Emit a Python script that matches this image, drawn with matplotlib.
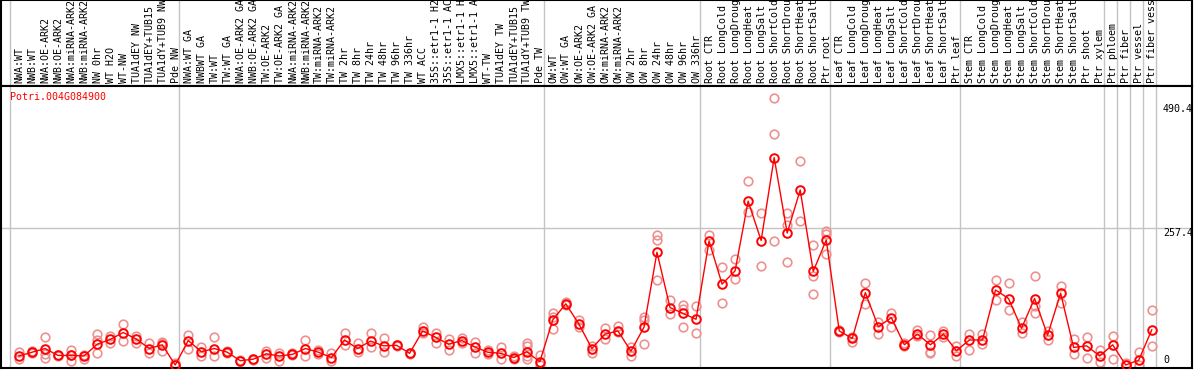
"""
Profil d'expression de Potri.004G084900 : moyenne (ligne rouge) et répliques
(cercles clairs) pour chaque échantillon, groupes séparés par des traits gris.
"""

import matplotlib
matplotlib.use("Agg")
import matplotlib.pyplot as plt

gene = "Potri.004G084900"

echantillons = [
    "NWA:WT", "NWB:WT", "NWA:OE-ARK2", "NWB:OE-ARK2", "NWA:miRNA-ARK2",
    "NWB:miRNA-ARK2", "NW 0hr", "WT H2O", "WT-NW", "TUA1dEY NW",
    "TUA1dEY+TUB15", "TUA1dY+TUB9 NW", "Pde NW",
    "NWA:WT GA", "NWBWT GA", "TW:WT", "TW:WT GA", "NWA:OE-ARK2 GA",
    "NWB:OE-ARK2 GA", "TW:OE-ARK2", "TW:OE-ARK2 GA", "NWA:miRNA-ARK2",
    "NWB:miRNA-ARK2", "TW:miRNA-ARK2", "TW:miRNA-ARK2", "TW 2hr", "TW 8hr",
    "TW 24hr", "TW 48hr", "TW 96hr", "TW 336hr", "WT ACC", "35S::etr1-1 H2",
    "35S::etr1-1 AC", "LMX5::etr1-1 H", "LMX5::etr1-1 A", "WT-TW",
    "TUA1dEY TW", "TUA1dEY+TUB15", "TUA1dY+TUB9 TW", "Pde TW",
    "OW:WT", "OW:WT GA", "OW:OE-ARK2", "OW:OE-ARK2 GA", "OW:miRNA-ARK2",
    "OW:miRNA-ARK2", "OW 2hr", "OW 8hr", "OW 24hr", "OW 48hr", "OW 96hr",
    "OW 336hr",
    "Root CTR", "Root LongCold", "Root LongDroug", "Root LongHeat",
    "Root LongSalt", "Root ShortCold", "Root ShortDrou", "Root ShortHeat",
    "Root ShortSalt", "Ptr root",
    "Leaf CTR", "Leaf LongCold", "Leaf LongDroug", "Leaf LongHeat",
    "Leaf LongSalt", "Leaf ShortCold", "Leaf ShortDrou", "Leaf ShortHeat",
    "Leaf ShortSalt", "Ptr leaf",
    "Stem CTR", "Stem LongCold", "Stem LongDroug", "Stem LongHeat",
    "Stem LongSalt", "Stem ShortCold", "Stem ShortDrou", "Stem ShortHeat",
    "Stem ShortSalt", "Ptr shoot", "Ptr xylem",
    "Ptr phloem", "Ptr fiber", "Ptr vessel", "Ptr fiber vess",
]

moyennes = [
    17, 24, 31, 18, 18, 17, 39, 48, 61, 49, 31, 38, 0,
    46, 25, 31, 24, 8, 11, 21, 17, 20, 31, 24, 14, 47, 31, 45, 36, 37, 22,
    64, 52, 39, 46, 34, 24, 22, 14, 25, 6,
    85, 115, 77, 31, 58, 64, 26, 71, 212, 108, 97, 86,
    233, 152, 177, 308, 234, 390, 248, 329, 176, 235,
    64, 50, 136, 72, 89, 38, 58, 38, 58, 27,
    47, 47, 141, 125, 69, 125, 56, 135, 33, 36, 17,
    38, 0, 9, 66,
]

repliques = [
    [25, 11], [27, 22], [53, 21, 14], [19, 16], [28, 8, 18], [19, 11],
    [58, 47, 23], [54, 42], [77, 45], [54, 42], [42, 23], [44, 41, 27], [4, 0],
    [57, 31], [33, 17], [52, 16], [26, 22], [9, 7], [12, 10], [27, 14],
    [23, 8], [22, 18], [47, 16], [28, 21], [22, 8], [61, 38], [41, 25],
    [61, 34], [50, 25], [38, 36], [23, 21], [71, 61], [60, 42], [48, 29],
    [50, 42], [44, 23], [28, 20], [33, 11], [16, 12], [41, 36, 16, 11], [19, 0],
    [97, 90, 67], [118, 112], [85, 71], [22, 36], [69, 48], [73, 62], [34, 17],
    [91, 84, 39], [244, 235, 160], [122, 95], [113, 106, 71], [111, 61],
    [244, 217], [184, 116], [200, 161], [346, 288], [286, 186],
    [501, 434, 234], [285, 263, 193], [383, 271], [226, 167, 133],
    [251, 246, 209],
    [62, 66], [53, 44], [155, 115], [81, 58], [98, 71], [41, 35], [66, 55],
    [56, 25, 22], [63, 53], [36, 17],
    [58, 28], [58, 39], [160, 123], [154, 103], [80, 60], [167, 97, 110],
    [63, 47], [148, 116], [48, 21], [53, 14], [29, 6],
    [54, 11], [4, 0], [24, 0], [103, 36],
]

# début de chaque groupe (et fin du dernier)
separations = [0, 13, 41, 53, 63, 73, 84, 85, 86, 87, 88]
graduations = [0, 257.4, 490.4]

# ──────────────────────────────────────────────────────────────────────────────

W, H = 1194, 370
ROUGE = "#ff0000"
ROSE = "#ee9090"
GRIS = "#c4c4c4"
police = dict(family="DejaVu Sans Mono", fontsize=7.2)

fig = plt.figure(figsize=(W / 100, H / 100), dpi=100)

# positions en pixels : point i à 19 + 13.02 i, cadre de x=1 à x=1192
pas, x0 = 13.02, 19.0
xlim = ((1 - x0) / pas, (1192 - x0) / pas)
decal = 9.0 / pas

ax_lab = fig.add_axes([1 / W, (H - 86) / H, 1191 / W, 86 / H])
ax = fig.add_axes([1 / W, (H - 368) / H, 1191 / W, (368 - 86) / H])

for a in (ax, ax_lab):
    a.set_xlim(*xlim)
    a.set_xticks([])
    a.set_yticks([])
    for s in a.spines.values():
        s.set_color("black")
        s.set_linewidth(1.5)
    for k in separations:
        a.axvline(k - decal, color=GRIS, lw=1.0, zorder=0)

ax_lab.set_ylim(86, 0)
for i, nom in enumerate(echantillons):
    ax_lab.text(i + 0.05, 83, nom, rotation=90, ha="center", va="bottom",
                clip_on=True, **police)

# échelle : 0 -> pixel 365, 0.532 px par unité
ax.set_ylim((365 - 368) / 0.532, (365 - 86) / 0.532)
ax.axhline(graduations[1], color=GRIS, lw=1.0, zorder=0)

tr = ax.get_yaxis_transform()
ax.text(0.9757, graduations[2], f"{graduations[2]}", transform=tr,
        ha="left", va="top", **police)
ax.text(0.9757, graduations[1], f"{graduations[1]}", transform=tr,
        ha="left", va="top", **police)
ax.text(0.9757, graduations[0], "0", transform=tr,
        ha="left", va="bottom", **police)

xs = [i for i, r in enumerate(repliques) for _ in r]
ys = [v for r in repliques for v in r]
ax.plot(xs, ys, "o", ms=6.2, mfc="none", mec=ROSE, mew=1.2, zorder=2)
ax.plot(range(len(moyennes)), moyennes, "-", color=ROUGE, lw=1.0, zorder=3)
ax.plot(range(len(moyennes)), moyennes, "o", ms=6.2, mfc="none", mec=ROUGE,
        mew=1.4, zorder=4)

ax.text(9 / 1191, (368 - 97) / 282, gene, transform=ax.transAxes,
        color=ROUGE, ha="left", va="center", **police)

plt.savefig("out.png", dpi=100)
